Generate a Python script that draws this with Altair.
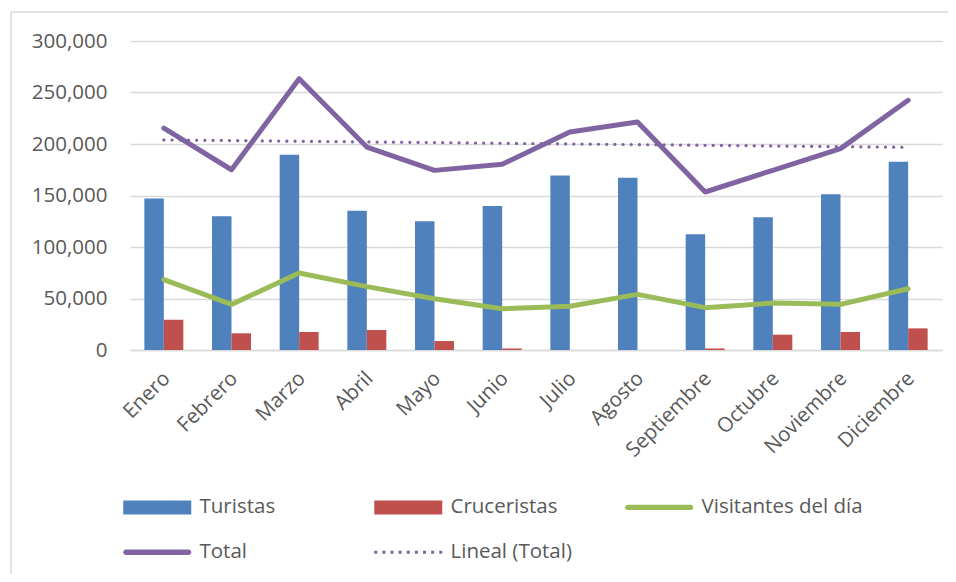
import altair as alt
import pandas as pd
import numpy as np

months = ["Enero", "Febrero", "Marzo", "Abril", "Mayo", "Junio", "Julio",
          "Agosto", "Septiembre", "Octubre", "Noviembre", "Diciembre"]
turistas = [147200, 129800, 189600, 135300, 124900, 139800, 169300, 167300,
            112300, 128800, 151100, 182800]
cruceristas = [29400, 16200, 17500, 19400, 8700, 1500, 0, 0, 1500, 14900,
               17500, 21000]
visitantes = [68300, 44300, 74800, 61500, 49800, 40100, 42400, 54000, 41100,
              45600, 44300, 59500]
total = [215500, 175000, 263400, 197000, 174400, 180300, 211700, 221400,
         153400, 174500, 195500, 242400]
y_ticks = [0, 50000, 100000, 150000, 200000, 250000, 300000]

series = ["Turistas", "Cruceristas", "Visitantes del día", "Total", "Lineal (Total)"]
colors = ["#4f81bd", "#c0504d", "#9bbb59", "#8064a2", "#8064a2"]

# linear trend of Total (Excel "Lineal")
idx = np.arange(len(months))
slope, intercept = np.polyfit(idx, np.array(total, dtype=float), 1)
trend = (slope * idx + intercept).tolist()

bars_df = pd.DataFrame({
    "mes": months * 2,
    "serie": ["Turistas"] * 12 + ["Cruceristas"] * 12,
    "valor": turistas + cruceristas,
})
lines_df = pd.DataFrame({
    "mes": months * 2,
    "serie": ["Visitantes del día"] * 12 + ["Total"] * 12,
    "valor": visitantes + total,
})
trend_df = pd.DataFrame({"mes": months, "serie": "Lineal (Total)", "valor": trend})
legend_df = pd.DataFrame({"serie": series})

FONT = "Open Sans"
GRAY = "#595959"
GRID = "#d9d9d9"

x_scale = alt.Scale(domain=months, paddingInner=0.424, paddingOuter=0.212)
y_scale = alt.Scale(domain=[0, 300000])
color_scale = alt.Scale(domain=series, range=colors)

x_axis = alt.Axis(labelAngle=-45, labelFont=FONT, labelFontSize=20.5,
                  labelColor=GRAY, ticks=False, domainColor=GRID,
                  domainWidth=1.5, labelPadding=18, labelOffset=-4, grid=False)
y_axis = alt.Axis(values=y_ticks, format=",.0f", labelFont=FONT, labelFontSize=20.5,
                  labelColor=GRAY, ticks=False, domain=False,
                  gridColor=GRID, gridWidth=1.5, labelPadding=23)


def xe():
    return alt.X("mes:N", scale=x_scale, sort=months, title=None, axis=x_axis)


def ye():
    return alt.Y("valor:Q", scale=y_scale, title=None, axis=y_axis)


bars = alt.Chart(bars_df).mark_bar().encode(
    x=xe(),
    y=ye(),
    xOffset=alt.XOffset("serie:N", scale=alt.Scale(domain=["Turistas", "Cruceristas"],
                                                   paddingInner=0, paddingOuter=0)),
    color=alt.Color("serie:N", scale=color_scale, legend=None),
)

lines = alt.Chart(lines_df).mark_line(strokeWidth=5, strokeCap="round",
                                      strokeJoin="round").encode(
    x=xe(),
    y=ye(),
    color=alt.Color("serie:N", scale=color_scale, legend=None),
    detail="serie:N",
)

trend_line = alt.Chart(trend_df).mark_line(strokeWidth=3.2, strokeDash=[0.1, 8.1],
                                           strokeCap="round").encode(
    x=xe(),
    y=ye(),
    color=alt.Color("serie:N", scale=color_scale, legend=None),
)

# custom legend symbols (unit = 10px with symbolSize 400)
rect_path = "M-1,-0.7H5.8V0.7H-1Z"
line_path = ("M-0.73,-0.27H5.53A0.27,0.27 0 0 1 5.53,0.27H-0.73"
             "A0.27,0.27 0 0 1 -0.73,-0.27Z")
dots = []
for i in range(9):
    cx = -0.85 + i * 0.8125
    dots.append(f"M{cx-0.15:.3f},-0.15H{cx+0.15:.3f}V0.15H{cx-0.15:.3f}Z")
dot_path = "".join(dots)
shapes = [rect_path, rect_path, line_path, line_path, dot_path]

legend = alt.Legend(title=None, orient="none", legendX=-7, legendY=456,
                    direction="horizontal",
                    columns=3, gridAlign="all", columnPadding=13, rowPadding=24,
                    symbolSize=400, labelOffset=56, labelFont=FONT,
                    labelFontSize=20.5, labelColor=GRAY, labelLimit=400,
                    symbolStrokeWidth=0, symbolOpacity=1, padding=0)

legend_layer = alt.Chart(legend_df).mark_point(filled=True, opacity=0).encode(
    color=alt.Color("serie:N", scale=color_scale, legend=legend),
    shape=alt.Shape("serie:N", scale=alt.Scale(domain=series, range=shapes), legend=legend),
)

one = pd.DataFrame({"a": [0]})
frame_left = alt.Chart(one).mark_rule(color=GRID, strokeWidth=1.5).encode(
    x=alt.value(-119), y=alt.value(-29), y2=alt.value(560))
frame_top = alt.Chart(one).mark_rule(color=GRID, strokeWidth=1.5).encode(
    x=alt.value(-119), x2=alt.value(820), y=alt.value(-29))

chart = alt.layer(frame_left, frame_top, legend_layer, bars, lines, trend_line).properties(
    width=812, height=309,
    autosize=alt.AutoSizeParams(type="none"),
    padding={"left": 122, "top": 33, "right": 6, "bottom": 224},
).configure_view(stroke=None)

chart.save("out.html", embed_options={"renderer": "svg", "actions": False})
